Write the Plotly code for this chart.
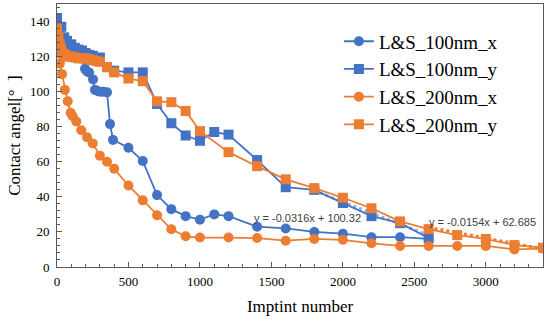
import plotly.graph_objects as go

# ---- data ----
x_100x = [0, 20, 40, 60, 80, 100, 130, 160, 196, 210, 224, 252, 266, 280, 300, 322, 350, 371, 392,
          500, 600, 700, 800, 900, 1000, 1100, 1200, 1400, 1600, 1800, 2000, 2200, 2400, 2600]
y_100x = [131, 128, 126, 125, 124, 123, 122, 121, 113, 111.5, 111, 107, 101, 100.5, 100, 100, 99.6, 81.5, 72.5,
          68, 60.5, 41, 33, 29, 27, 30, 29, 23, 22, 20, 19, 17, 17, 16]

x_100y = [0, 30, 50, 70, 100, 125, 150, 175, 200, 225, 250, 300, 350, 400, 500, 600, 700, 800, 900,
          1000, 1100, 1200, 1400, 1600, 1800, 2000, 2200, 2400, 2600]
y_100y = [142, 137, 131, 129, 127, 125, 124, 123.5, 122, 121, 120.5, 119.5, 114, 112, 111, 111, 93, 82, 75,
          72, 77, 75.5, 61, 45.5, 44, 36.5, 29, 25, 16.5]

x_200x = [0, 10, 15, 20, 35, 55, 75, 95, 110, 135, 170, 210, 250, 300, 350, 400, 500, 600, 700, 800, 900,
          1000, 1200, 1400, 1600, 1800, 2000, 2200, 2400, 2600, 2800, 3000, 3200, 3400]
y_200x = [128, 125, 122, 116, 110, 101, 94.5, 88, 86, 83, 78, 74, 70.5, 63.5, 60, 56, 46.5, 38, 29.5, 21.5, 17.5,
          16.8, 16.8, 16.5, 15, 16, 15.5, 13.5, 12, 12, 12, 12, 10, 10.5]

x_200y = [0, 10, 20, 30, 40, 60, 80, 100, 125, 150, 175, 200, 225, 250, 275, 300, 350, 400, 500, 600, 700, 800, 900,
          1000, 1200, 1400, 1600, 1800, 2000, 2200, 2400, 2600, 2800, 3000, 3200, 3400]
y_200y = [136, 131, 127, 124, 122, 121, 120, 120, 119.5, 119, 119, 119, 118.5, 118, 117.5, 117, 114, 111, 107.5, 106, 94.5, 94, 89,
          77.5, 65.5, 57.5, 50, 45, 39.5, 33.5, 26, 21.6, 18.2, 16, 12.5, 11]

# trendlines (from labelled equations)
trend_a_slope, trend_a_icpt, trend_a_x = -0.0316, 100.32, [1800, 2600]
trend_b_slope, trend_b_icpt, trend_b_x = -0.0154, 62.685, [2600, 3400]

x_ticks = [0, 500, 1000, 1500, 2000, 2500, 3000]
y_ticks = [0, 20, 40, 60, 80, 100, 120, 140]

BLUE = "#4472C4"
ORANGE = "#ED7D31"
LIGHTBLUE = "#8DB4E2"
SERIF = "Liberation Serif, Times New Roman, serif"

fig = go.Figure()

fig.add_trace(go.Scatter(x=trend_a_x, y=[trend_a_slope * v + trend_a_icpt for v in trend_a_x],
                         mode="lines", line=dict(color=LIGHTBLUE, width=3, dash="dot"),
                         showlegend=False, hoverinfo="skip"))
fig.add_trace(go.Scatter(x=trend_b_x, y=[trend_b_slope * v + trend_b_icpt for v in trend_b_x],
                         mode="lines", line=dict(color=ORANGE, width=3, dash="dot"),
                         showlegend=False, hoverinfo="skip"))

series = [
    (x_100x, y_100x, "L&S_100nm_x", BLUE, "circle"),
    (x_100y, y_100y, "L&S_100nm_y", BLUE, "square"),
    (x_200x, y_200x, "L&S_200nm_x", ORANGE, "circle"),
    (x_200y, y_200y, "L&S_200nm_y", ORANGE, "square"),
]
for xs, ys, nm, col, sym in series:
    fig.add_trace(go.Scatter(x=xs, y=ys, name=nm, legendgroup=nm, mode="lines+markers",
                             line=dict(color=col, width=1.8),
                             marker=dict(symbol=sym, size=10, color=col)))

fig.add_annotation(x=1755, y=28, xref="x", yref="y", text="y = -0.0316x + 100.32",
                   showarrow=False, font=dict(family="Liberation Sans", size=11, color="#404040"))
fig.add_annotation(x=2980, y=25.6, xref="x", yref="y", text="y = -0.0154x + 62.685",
                   showarrow=False, font=dict(family="Liberation Sans", size=11, color="#404040"))

axis_common = dict(showline=True, linecolor="#595959", linewidth=1, mirror=True,
                   ticks="inside", ticklen=5, tickcolor="#595959", showgrid=False, zeroline=False,
                   automargin=False,
                   tickfont=dict(family=SERIF, size=13, color="black"))

fig.update_xaxes(range=[0, 3400], tickvals=x_ticks, ticktext=[str(v) for v in x_ticks],
                 minor=dict(dtick=100, ticks="inside", ticklen=3, tickcolor="#595959"),
                 ticklabelstandoff=2,
                 title=dict(text="Imptint number", font=dict(family=SERIF, size=17, color="black"), standoff=12),
                 **axis_common)
fig.update_yaxes(range=[0, 150], tickvals=y_ticks, ticktext=[str(v) for v in y_ticks],
                 minor=dict(dtick=4, ticks="inside", ticklen=3, tickcolor="#595959"),
                 ticklabelstandoff=4,
                 title=dict(text="Contact angel[°  ]", font=dict(family=SERIF, size=17, color="black"), standoff=4),
                 **axis_common)

fig.update_layout(
    width=550, height=325,
    margin=dict(l=57, r=7, t=4, b=58),
    paper_bgcolor="white", plot_bgcolor="white",
    legend=dict(x=0.58, y=0.93, xanchor="left", yanchor="top", bgcolor="rgba(255,255,255,0)",
                font=dict(family=SERIF, size=19, color="black"), itemwidth=30,
                traceorder="grouped", tracegroupgap=0),
)

fig.write_html("out.html", config={"displayModeBar": False},
               post_script="document.body.style.margin='0';")
